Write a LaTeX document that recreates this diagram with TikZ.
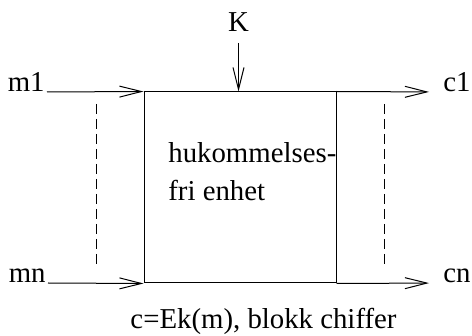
\documentclass[tikz,border=0pt]{standalone}
\usepackage{fontspec}
\setmainfont{Liberation Serif}
\usepackage{tikz}
\usetikzlibrary{arrows.meta, positioning, calc}

\tikzset{
    pil/.style={-{Straight Barb[length=11pt, width=5.5pt]}, line width=0.5pt},
    etikett/.style={inner sep=1pt, font=\fontsize{14.4}{19}\selectfont},
    stiplet/.style={line width=0.5pt, dash pattern=on 5pt off 2.5pt}
}

\begin{document}
\begin{tikzpicture}[x=0.5pt, y=-0.5pt]
    \useasboundingbox (0,0) rectangle (472,336);

    % Blokken
    \node[draw, line width=0.5pt, minimum width=96pt, minimum height=95.5pt, inner sep=0] (enhet) at (240,187.5) {};
    \node[etikett, anchor=base west, inner sep=0] (tekst1) at (168,163) {hukommelses-};
    \node[etikett, anchor=base west, inner sep=0] (tekst2) at (168,201) {fri enhet};

    % Inn og ut
    \node[etikett, anchor=base east] (m1) at (47,92) {m1};
    \node[etikett, anchor=base east] (mn) at (48,283) {mn};
    \node[etikett, anchor=base west, inner sep=0] (c1) at (443,92) {c1};
    \node[etikett, anchor=base west, inner sep=0] (cn) at (443,283) {cn};
    \draw[pil] (m1.base east) -- (enhet.north west);
    \draw[pil] (mn.base east) -- (enhet.south west);
    \draw[pil, shorten >=7pt] (enhet.north east) -- (c1.base west);
    \draw[pil, shorten >=7pt] (enhet.south east) -- (cn.base west);

    % Nokkel
    \node[etikett, anchor=base] (K) at (238.5,32) {K};
    \draw[pil, shorten <=5.5pt] (K.base) -- (K.base |- enhet.north);

    % Flere linjer
    \draw[stiplet] (96,104) -- (96,267);
    \draw[stiplet] (384,104) -- (384,267);

    \node[etikett, anchor=base] (tittel) at (263.5,329) {c=Ek(m), blokk chiffer};
\end{tikzpicture}
\end{document}
